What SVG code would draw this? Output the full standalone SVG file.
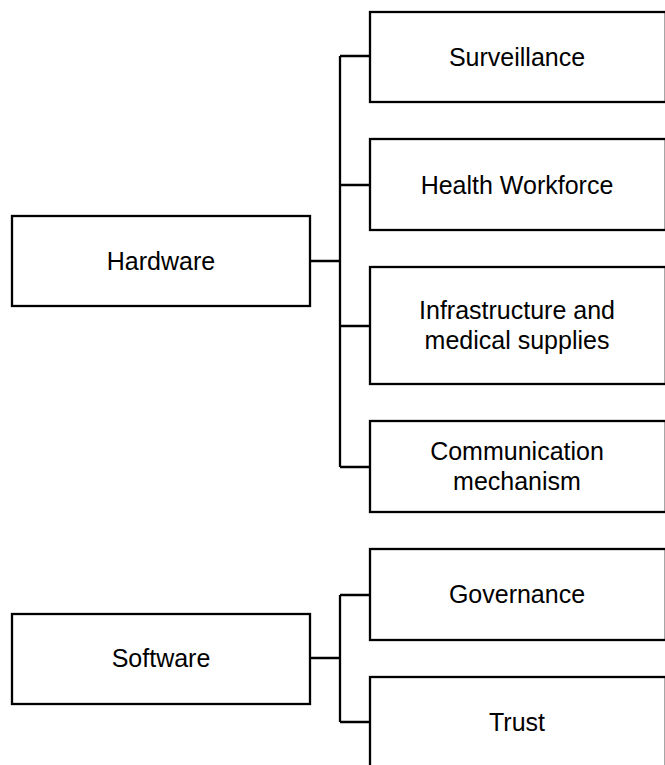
<svg xmlns="http://www.w3.org/2000/svg" width="665" height="765" viewBox="0 0 665 765">
<style>
.box{fill:#fff;stroke:#000;stroke-width:2.3}
.lbl{font-family:"Liberation Sans",Arial,sans-serif;font-size:25px;fill:#000;text-anchor:middle}
.con{fill:none;stroke:#000;stroke-width:2.3}
</style>
<rect width="665" height="765" fill="#fff"/>
<g id="connectors">
<path class="con" d="M310,261 H340 M340,56 V467 M340,56 H370 M340,185 H370 M340,326 H370 M340,467 H370"/>
<path class="con" d="M310,658 H340 M340,595 V722 M340,595 H370 M340,722 H370"/>
</g>
<g id="hardware"><rect class="box" x="12" y="216" width="298" height="90"/><text class="lbl" x="161" y="270">Hardware</text></g>
<g id="surveillance"><rect class="box" x="370" y="12" width="295.8" height="90"/><text class="lbl" x="517" y="66">Surveillance</text></g>
<g id="health-workforce"><rect class="box" x="370" y="139" width="295.8" height="91"/><text class="lbl" x="517" y="194">Health Workforce</text></g>
<g id="infrastructure"><rect class="box" x="370" y="267" width="295.8" height="117"/><text class="lbl" x="517" y="319">Infrastructure and</text><text class="lbl" x="517" y="349">medical supplies</text></g>
<g id="communication"><rect class="box" x="370" y="421" width="295.8" height="91"/><text class="lbl" x="517" y="460">Communication</text><text class="lbl" x="517" y="490">mechanism</text></g>
<g id="software"><rect class="box" x="12" y="614" width="298" height="90"/><text class="lbl" x="161" y="667">Software</text></g>
<g id="governance"><rect class="box" x="370" y="549" width="295.8" height="91"/><text class="lbl" x="517" y="603">Governance</text></g>
<g id="trust"><rect class="box" x="370" y="677" width="295.8" height="95"/><text class="lbl" x="517" y="731">Trust</text></g>
</svg>
